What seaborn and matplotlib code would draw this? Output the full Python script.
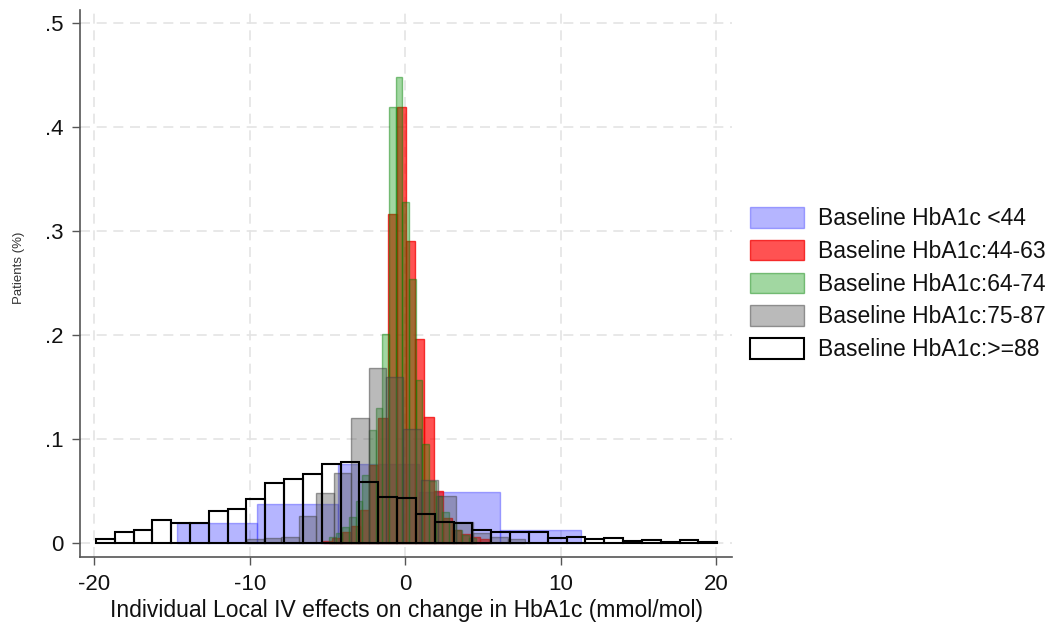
import numpy as np
import pandas as pd
import matplotlib
matplotlib.use("Agg")
import matplotlib.pyplot as plt
import seaborn as sns

# Histogram densities of individual local IV effects, by baseline HbA1c group.
# Each group: first bin edge, bin width, and bar heights.
labels = [
    "Baseline HbA1c <44",
    "Baseline HbA1c:44-63",
    "Baseline HbA1c:64-74",
    "Baseline HbA1c:75-87",
    "Baseline HbA1c:>=88",
]

lt44_start, lt44_width = -14.71, 5.2
lt44_heights = [0.0189, 0.0375, 0.0757, 0.0494, 0.0125]

g44_63_start, g44_63_width = -5.28, 0.591
g44_63_heights = [0.002, 0.005, 0.011, 0.0163, 0.0317, 0.075, 0.120, 0.316,
                  0.419, 0.290, 0.196, 0.121, 0.050, 0.0237, 0.0125, 0.009,
                  0.006, 0.004]

g64_74_start, g64_74_width = -4.918, 0.4286
g64_74_heights = [0.006, 0.010, 0.015, 0.025, 0.040, 0.065, 0.109, 0.130,
                  0.201, 0.419, 0.448, 0.328, 0.2535, 0.157, 0.095, 0.060,
                  0.045, 0.030, 0.020, 0.012, 0.008, 0.005]

g75_87_start, g75_87_width = -10.21, 1.12
g75_87_heights = [0.0035, 0.005, 0.0055, 0.026, 0.0484, 0.067, 0.120, 0.1686,
                  0.160, 0.110, 0.0606, 0.045, 0.020, 0.010, 0.006, 0.004]

ge88_start, ge88_width = -19.9, 1.2106
ge88_heights = [0.0041, 0.0106, 0.0125, 0.0221, 0.0195, 0.0189, 0.0308, 0.033,
                0.042, 0.0574, 0.0612, 0.0663, 0.0757, 0.0776, 0.0587, 0.0439,
                0.043, 0.0275, 0.0205, 0.0189, 0.0125, 0.0106, 0.0102, 0.0109,
                0.0048, 0.006, 0.0039, 0.0051, 0.0016, 0.0029, 0.0013, 0.0032,
                0.0013]

x_ticks = [-20, -10, 0, 10, 20]
y_ticks = [0, 0.1, 0.2, 0.3, 0.4, 0.5]
y_tick_labels = ["0", ".1", ".2", ".3", ".4", ".5"]

groups = [
    (lt44_start, lt44_width, lt44_heights),
    (g44_63_start, g44_63_width, g44_63_heights),
    (g64_74_start, g64_74_width, g64_74_heights),
    (g75_87_start, g75_87_width, g75_87_heights),
    (ge88_start, ge88_width, ge88_heights),
]

# translucent fills drawn in legend order, outlined bars on top
styles = [
    dict(facecolor=(0.0, 0.0, 1.0, 0.29), edgecolor=(0.2, 0.2, 1.0, 0.40), linewidth=1.0),
    dict(facecolor=(1.0, 0.0, 0.0, 0.68), edgecolor=(0.95, 0.0, 0.0, 0.75), linewidth=1.0),
    dict(facecolor=(0.0, 0.58, 0.0, 0.37), edgecolor=(0.0, 0.5, 0.0, 0.45), linewidth=1.0),
    dict(facecolor=(0.33, 0.33, 0.33, 0.40), edgecolor=(0.25, 0.25, 0.25, 0.50), linewidth=1.0),
    dict(fill=False, color="black", linewidth=1.5),
]

sns.set_style("white")
plt.rcParams["font.family"] = ["Liberation Sans", "DejaVu Sans"]
plt.rcParams["text.color"] = "#111111"
plt.rcParams["axes.labelcolor"] = "#111111"
plt.rcParams["xtick.color"] = "#111111"
plt.rcParams["ytick.color"] = "#111111"

fig = plt.figure(figsize=(10.54, 6.30), dpi=100)
ax = fig.add_axes([80 / 1054, 73 / 630, (732 - 80) / 1054, (557 - 10) / 630])

for (start, width, heights), label, style in zip(groups, labels, styles):
    n = len(heights)
    edges = (start + width * np.arange(n + 1)).tolist()
    centers = [(a + b) / 2 for a, b in zip(edges[:-1], edges[1:])]
    df = pd.DataFrame({"effect": centers, "density": heights})
    sns.histplot(data=df, x="effect", weights="density", bins=edges,
                 stat="count", element="bars", label=label, ax=ax, **style)

ax.set_xlim(-20.92, 21.0)
ax.set_ylim(-0.0135, 0.5125)
ax.set_xticks(x_ticks)
ax.set_xticklabels([str(t) for t in x_ticks])
ax.set_yticks(y_ticks)
ax.set_yticklabels(y_tick_labels)

ax.grid(True, color="#e4e4e4", linestyle=(0, (6, 4)), linewidth=1.2)
ax.set_axisbelow(True)
for side in ["top", "right"]:
    ax.spines[side].set_visible(False)
for side in ["left", "bottom"]:
    ax.spines[side].set_color("#555555")
    ax.spines[side].set_linewidth(1.2)

ax.tick_params(axis="both", which="both", direction="out", length=6, width=1.0,
               color="#555555", labelcolor="#111111", labelsize=16, left=True, bottom=True)
ax.tick_params(axis="x", pad=6)
ax.tick_params(axis="y", pad=6)
ax.set_xlabel("Individual Local IV effects on change in HbA1c (mmol/mol)",
              fontsize=16.5, labelpad=3)
ax.set_ylabel("Patients (%)", fontsize=9.5, color="#333333")
ax.yaxis.set_label_coords(-0.085, 0.528)

handles, leg_labels = ax.get_legend_handles_labels()
fig.legend(handles, leg_labels, loc="upper left", bbox_to_anchor=(741 / 1054, 1 - 198 / 630),
           frameon=False, fontsize=16.5, handlelength=2.33, handleheight=1.0,
           labelspacing=0.42, handletextpad=0.65, borderaxespad=0)

fig.savefig("out.png", dpi=100)
